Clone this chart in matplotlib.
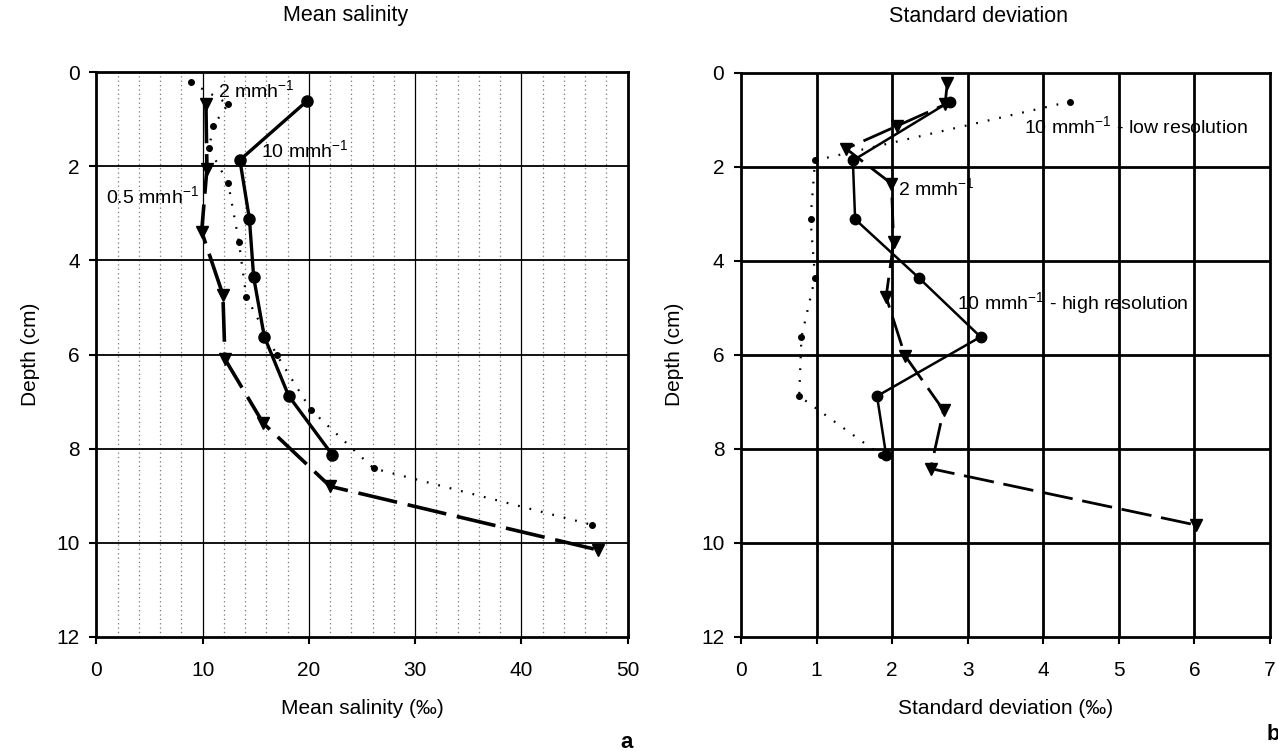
import matplotlib
matplotlib.use("Agg")
import matplotlib.pyplot as plt
import numpy as np

plt.rcParams['font.family'] = ['Liberation Sans', 'DejaVu Sans']
plt.rcParams['mathtext.default'] = 'regular'

# ---- data ----
depth_10 = [0.62, 1.87, 3.12, 4.36, 5.62, 6.88, 8.13]
depth_05 = [0.67, 2.05, 3.39, 4.73, 6.10, 7.46, 8.80, 10.15]
depth_2 = [0.22, 0.68, 1.14, 1.62, 2.36, 3.60, 4.77, 6.02, 7.18, 8.42, 9.62]

sal_10 = [19.8, 13.5, 14.4, 14.8, 15.8, 18.1, 22.2]
sal_05 = [10.3, 10.4, 9.9, 11.9, 12.1, 15.7, 22.0, 47.2]
sal_2 = [8.9, 12.4, 11.0, 10.6, 12.4, 13.4, 14.1, 17.0, 20.2, 26.1, 46.7]

sd_10_high = [2.76, 1.48, 1.51, 2.35, 3.17, 1.80, 1.92]
sd_10_low = [4.35, 0.98, 0.92, 0.98, 0.80, 0.77, 1.85]
sd_2 = [2.73, 2.70, 2.06, 1.39, 1.99, 2.02, 1.92, 2.17, 2.68, 2.51, 6.02]

sal_ticks = [0, 10, 20, 30, 40, 50]
sd_ticks = [0, 1, 2, 3, 4, 5, 6, 7]
depth_ticks = [0, 2, 4, 6, 8, 10, 12]

W, H = 1278, 751
fig = plt.figure(figsize=(W / 100, H / 100), dpi=100)

def box(x0, x1, y0, y1):
    return [x0 / W, 1 - y1 / H, (x1 - x0) / W, (y1 - y0) / H]

axA = fig.add_axes(box(96.5, 627.5, 72, 637))
axB = fig.add_axes(box(741, 1270, 72.5, 637))

FS = 15
FA = 14

def style(ax, xt, xlim):
    ax.set_xlim(*xlim)
    ax.set_ylim(12, 0)
    ax.set_xticks(xt)
    ax.set_yticks(depth_ticks)
    ax.tick_params(direction='out', length=5, width=1.5, labelsize=FS)
    ax.tick_params(axis='x', pad=12)
    ax.tick_params(axis='y', pad=7)
    for s in ax.spines.values():
        s.set_linewidth(2.0)
        s.set_color('black')
    ax.set_ylabel('Depth (cm)', fontsize=FS, labelpad=12)

# ---- panel a ----
style(axA, sal_ticks, (0, 50))
for x in np.arange(2, 50, 2):
    if x % 10 != 0:
        axA.axvline(x, color='#777777', lw=0.9, ls=(0, (1, 2.5)), zorder=0)
for x in [10, 20, 30, 40]:
    axA.axvline(x, color='black', lw=0.9, zorder=0.5)
for y in [2, 4, 6, 8, 10]:
    axA.axhline(y, color='black', lw=1.3, zorder=0.5)

axA.plot(sal_2, depth_2, color='black', lw=1.6, ls=(0, (0.8, 4.5)),
         marker='o', ms=4, zorder=3)
axA.plot(sal_05, depth_05, color='black', lw=2.6, dashes=(11, 3),
         marker='v', ms=8.5, zorder=3)
axA.plot(sal_10, depth_10, color='black', lw=2.4, ls='-',
         marker='o', ms=8, zorder=4)

axA.set_xlabel('Mean salinity (‰)', fontsize=FS, labelpad=14)
axA.text(11.4, 0.38, '2 mmh$^{-1}$', fontsize=FA, va='center', ha='left')
axA.text(15.5, 1.65, '10 mmh$^{-1}$', fontsize=FA, va='center', ha='left')
axA.text(0.9, 2.63, '0.5 mmh$^{-1}$', fontsize=FA, va='center', ha='left')

# ---- panel b ----
style(axB, sd_ticks, (0, 7))
for x in range(1, 7):
    axB.axvline(x, color='black', lw=2.0, zorder=0.5)
for y in [2, 4, 6, 8, 10]:
    axB.axhline(y, color='black', lw=2.0, zorder=0.5)

axB.plot(sd_10_low, depth_10, color='black', lw=1.6, ls=(0, (0.8, 4.5)),
         marker='o', ms=4, zorder=3)
axB.plot(sd_2, depth_2, color='black', lw=2.0, dashes=(11, 3.5),
         marker='v', ms=8.5, zorder=3)
axB.plot(sd_10_high, depth_10, color='black', lw=1.8, ls='-',
         marker='o', ms=7.5, zorder=4)

axB.set_xlabel('Standard deviation (‰)', fontsize=FS, labelpad=14)
axB.text(3.75, 1.15, '10 mmh$^{-1}$ - low resolution', fontsize=FA,
         va='center', ha='left')
axB.text(2.08, 2.45, '2 mmh$^{-1}$', fontsize=FA, va='center', ha='left')
axB.text(2.86, 4.9, '10 mmh$^{-1}$ - high resolution', fontsize=FA,
         va='center', ha='left')

fig.text(346 / W, 1 - 16 / H, 'Mean salinity', fontsize=FS + 0.5,
         ha='center', va='center')
fig.text(978 / W, 1 - 16 / H, 'Standard deviation', fontsize=FS + 0.5,
         ha='center', va='center')
fig.text(627 / W, 1 - 742 / H, 'a', fontsize=FS + 1, fontweight='bold',
         ha='center', va='center')
fig.text(1273 / W, 1 - 735 / H, 'b', fontsize=FS + 1, fontweight='bold',
         ha='center', va='center')

fig.savefig('out.png', dpi=100)
